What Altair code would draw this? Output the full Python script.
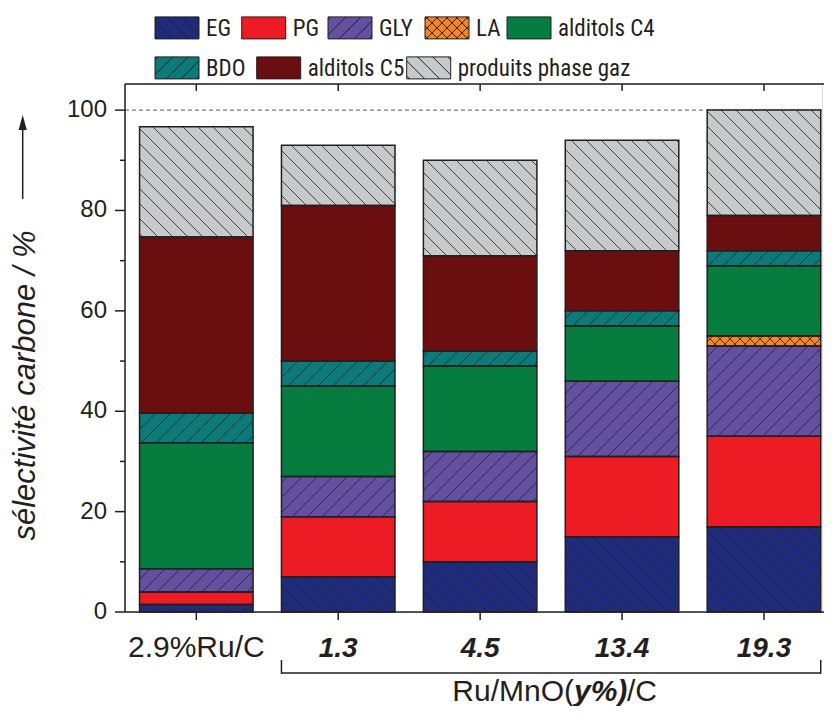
import math
import altair as alt
import pandas as pd

# ---------------- data ----------------
categories = ["2.9%Ru/C", "1.3", "4.5", "13.4", "19.3"]
components = ["EG", "PG", "GLY", "LA", "alditols C4", "BDO", "alditols C5", "produits phase gaz"]
EG = [1.5, 7, 10, 15, 17]
PG = [2.5, 12, 12, 16, 18]
GLY = [4.6, 8, 10, 15, 18]
LA = [0, 0, 0, 0, 2]
C4 = [25.1, 18, 17, 11, 14]
BDO = [5.9, 5, 3, 3, 3]
C5 = [35.1, 31, 19, 12, 7]
GAS = [22.0, 12, 19, 22, 21]
series = [EG, PG, GLY, LA, C4, BDO, C5, GAS]
y_ticks = [0, 20, 40, 60, 80, 100]
y_minor = [10, 30, 50, 70, 90]
ref_level = [100]
y_title = "sélectivité carbone / %"
x_title_parts = ["Ru/MnO(", "y%)", "/C"]

# ---------------- style ----------------
colors = ["#1f2b7b", "#ed1c24", "#6350a0", "#f6871f", "#067c3f", "#0a7b79", "#6b0e10", "#c8c9cb"]
patterns = ["\\", "", "/", "x", "", "/", "", "\\"]
INK = "#231f20"
FONT = "Liberation Sans"
NARROW = "Liberation Sans Narrow, Arial Narrow, Roboto Condensed, Liberation Sans"
# legend layout (swatch left edge / row centre, in plot pixels)
leg_left = [30, 116.7, 203, 300, 382, 30, 131.7, 281.7]
leg_row = [-56.1] * 5 + [-16.1] * 3

W, H = 697, 528
XMIN, XMAX = -0.5025, 4.409
YMAX = 105.2
HALF = 0.4
XS = W / (XMAX - XMIN)
YS = H / YMAX


def hatch_segs(x0, x1, y0, y1, kind, s, eps):
    segs = []
    dirs = {"\\": ["d"], "/": ["u"], "x": ["d", "u"]}.get(kind, [])
    for d in dirs:
        if d == "d":  # y = x + c (screen coords, y down)
            cmin, cmax = y0 - x1, y1 - x0
            for n in range(math.ceil(cmin / s), math.floor(cmax / s) + 1):
                c = n * s
                xa, xb = max(x0, y0 - c), min(x1, y1 - c)
                if xb - xa > eps:
                    segs.append((xa, xa + c, xb, xb + c))
        else:  # y = -x + c
            cmin, cmax = y0 + x0, y1 + x1
            for n in range(math.ceil(cmin / s), math.floor(cmax / s) + 1):
                c = n * s
                xa, xb = max(x0, c - y1), min(x1, c - y0)
                if xb - xa > eps:
                    segs.append((xa, c - xa, xb, c - xb))
    return segs


rows, hatch = [], []
for i, cat in enumerate(categories):
    base = 0.0
    for comp, vals, pat in zip(components, series, patterns):
        v = vals[i]
        if v <= 0:
            continue
        y0, y1 = base, base + v
        rows.append(dict(idx=i, cat=cat, comp=comp, xl=i - HALF, xr=i + HALF, y0=y0, y1=y1))
        px0, px1 = (i - HALF - XMIN) * XS, (i + HALF - XMIN) * XS
        pyt, pyb = H - y1 * YS, H - y0 * YS
        sp = 10 if pat == "x" else 15
        for (ax, ay, bx, by) in hatch_segs(px0, px1, pyt, pyb, pat, sp, 0.8):
            hatch.append(dict(hx=XMIN + ax / XS, hx2=XMIN + bx / XS,
                              hy=(H - ay) / YS, hy2=(H - by) / YS))
        base = y1

df = pd.DataFrame(rows)
dh = pd.DataFrame(hatch)

# legend symbol paths (unit box [-1,1] wide, [-0.5,0.5] tall) with hatching
paths = []
for pat in patterns:
    p = "M-1,-0.5H1V0.5H-1Z"
    sp = 10 / 22 if pat == "x" else 15 / 22
    for (ax, ay, bx, by) in hatch_segs(-1, 1, -0.5, 0.5, pat, sp, 0.02):
        p += f"M{ax:.3f},{ay:.3f}L{bx:.3f},{by:.3f}"
    paths.append(p)

leg_df = pd.DataFrame({"comp": components, "color": colors, "path": paths,
                       "sx": [v + 22 for v in leg_left], "tx": [v + 51 for v in leg_left],
                       "sy": leg_row, "ty": [v + 8.4 for v in leg_row]})

xscale = alt.Scale(domain=[XMIN, XMAX], nice=False, zero=False)
yscale = alt.Scale(domain=[0, YMAX], nice=False, zero=True)
fscale = alt.Scale(domain=components, range=colors)

one = alt.Data(values=[{"a": 1}])
cat_df = pd.DataFrame({"i": list(range(len(categories))), "cat": categories,
                       "top": [YMAX] * len(categories)})
ytk_df = pd.DataFrame({"v": y_ticks})
frame_df = pd.DataFrame({"lo": [0.0], "hi": [YMAX], "l": [XMIN]})

dash = alt.Chart(pd.DataFrame({"v": ref_level})).mark_rule(
    stroke="#555555", strokeWidth=1, strokeDash=[4, 3]).encode(
    y=alt.Y("v:Q", scale=yscale, axis=None), x=alt.value(0), x2=alt.value(W + 2))

bars = alt.Chart(df).mark_rect(strokeWidth=0).encode(
    x=alt.X("xl:Q", scale=xscale, axis=None), x2="xr:Q",
    y=alt.Y("y0:Q", scale=yscale, axis=None), y2="y1:Q",
    fill=alt.Fill("comp:N", scale=fscale, legend=None))

hatch_l = alt.Chart(dh).mark_rule(stroke=INK, strokeWidth=0.8).encode(
    x=alt.X("hx:Q", scale=xscale, axis=None), x2="hx2:Q",
    y=alt.Y("hy:Q", scale=yscale, axis=None), y2="hy2:Q")

outline = alt.Chart(df).mark_rect(fillOpacity=0, stroke=INK, strokeWidth=1.5).encode(
    x=alt.X("xl:Q", scale=xscale, axis=None), x2="xr:Q",
    y=alt.Y("y0:Q", scale=yscale, axis=None), y2="y1:Q")

# frame (through the scales)
top_line = alt.Chart(frame_df).mark_rule(stroke=INK, strokeWidth=1.5).encode(
    y=alt.Y("hi:Q", scale=yscale, axis=None), x=alt.value(0), x2=alt.value(W + 2))
bot_line = alt.Chart(frame_df).mark_rule(stroke=INK, strokeWidth=1.5).encode(
    y=alt.Y("lo:Q", scale=yscale, axis=None), x=alt.value(0), x2=alt.value(W + 2))
left_line = alt.Chart(frame_df).mark_rule(stroke=INK, strokeWidth=1.5).encode(
    x=alt.X("l:Q", scale=xscale, axis=None),
    y=alt.Y("lo:Q", scale=yscale, axis=None), y2="hi:Q")

# x ticks (bottom, outward) and top ticks (inward)
x_ticks = alt.Chart(cat_df).mark_rule(stroke=INK, strokeWidth=1.5).encode(
    x=alt.X("i:Q", scale=xscale, axis=None), y=alt.value(H), y2=alt.value(H + 8))
top_ticks = alt.Chart(cat_df).mark_rule(stroke=INK, strokeWidth=1.5).encode(
    x=alt.X("i:Q", scale=xscale, axis=None),
    y=alt.Y("top:Q", scale=yscale, axis=None), y2=alt.value(7))

# y ticks and labels
y_major = alt.Chart(ytk_df).mark_rule(stroke=INK, strokeWidth=1.5).encode(
    y=alt.Y("v:Q", scale=yscale, axis=None), x=alt.value(-10), x2=alt.value(0))
minor = alt.Chart(pd.DataFrame({"v": y_minor})).mark_rule(stroke=INK, strokeWidth=1.5).encode(
    y=alt.Y("v:Q", scale=yscale, axis=None), x=alt.value(-5), x2=alt.value(0))
y_labels = alt.Chart(ytk_df).mark_text(font=FONT, fontSize=24, color=INK, align="right",
                                       baseline="middle").encode(
    y=alt.Y("v:Q", scale=yscale, axis=None), x=alt.value(-18), text="v:Q")

lab_first = alt.Chart(cat_df).transform_filter("datum.i == 0").mark_text(
    font=FONT, fontSize=30, color=INK, align="center", baseline="alphabetic").encode(
    x=alt.X("i:Q", scale=xscale, axis=None), y=alt.value(H + 44.5), text="cat:N")
lab_rest = alt.Chart(cat_df).transform_filter("datum.i > 0").mark_text(
    font=FONT, fontSize=28, fontWeight="bold", fontStyle="italic", color=INK,
    align="center", baseline="alphabetic").encode(
    x=alt.X("i:Q", scale=xscale, axis=None), y=alt.value(H + 44.5), text="cat:N")

br_df = pd.DataFrame({"a": [1 - HALF], "b": [len(categories) - 1 + HALF]})
br_h = alt.Chart(br_df).mark_rule(stroke=INK, strokeWidth=1.5).encode(
    x=alt.X("a:Q", scale=xscale, axis=None), x2="b:Q", y=alt.value(589))
br_v = alt.Chart(br_df).transform_fold(["a", "b"], as_=["k", "pos"]).mark_rule(
    stroke=INK, strokeWidth=1.5).encode(
    x=alt.X("pos:Q", scale=xscale, axis=None), y=alt.value(576), y2=alt.value(589.7))

TY = 617
t1 = alt.Chart(one).mark_text(text=x_title_parts[0], font=FONT, fontSize=30, color=INK,
                              align="right", baseline="alphabetic").encode(
    x=alt.value(449), y=alt.value(TY))
t2 = alt.Chart(one).mark_text(text=x_title_parts[1], font=FONT, fontSize=30, color=INK,
                              fontWeight="bold", fontStyle="italic",
                              align="left", baseline="alphabetic").encode(
    x=alt.value(449), y=alt.value(TY))
t3 = alt.Chart(one).mark_text(text=x_title_parts[2], font=FONT, fontSize=30, color=INK,
                              align="left", baseline="alphabetic").encode(
    x=alt.value(502), y=alt.value(TY))

ytitle = alt.Chart(one).mark_text(text=y_title, font=FONT, fontSize=31, fontStyle="italic",
                                  color=INK, angle=270, align="center", baseline="middle").encode(
    x=alt.value(-99), y=alt.value(301.5))
arrow_line = alt.Chart(one).mark_rule(stroke=INK, strokeWidth=1.5).encode(
    x=alt.value(-102.3), y=alt.value(115), y2=alt.value(44))
arrow_head = alt.Chart(one).mark_point(shape="M0,-1L0.55,1L-0.55,1Z", filled=True, fill=INK,
                                       size=225, opacity=1, strokeWidth=0).encode(
    x=alt.value(-102.3), y=alt.value(38.5))

leg_sym = alt.Chart(leg_df).mark_point(filled=True, opacity=1, stroke=INK, strokeWidth=1,
                                       size=1936).encode(
    x=alt.X("sx:Q", scale=None, axis=None), y=alt.Y("sy:Q", scale=None, axis=None),
    fill=alt.Fill("color:N", scale=None, legend=None),
    shape=alt.Shape("path:N", scale=None, legend=None))
leg_txt = alt.Chart(leg_df).mark_text(font=NARROW, fontSize=23, color=INK, align="left",
                                      baseline="alphabetic").encode(
    x=alt.X("tx:Q", scale=None, axis=None), y=alt.Y("ty:Q", scale=None, axis=None),
    text="comp:N")

chart = alt.layer(
    dash, bars, hatch_l, outline, top_line, bot_line, left_line, x_ticks, top_ticks,
    y_major, minor, y_labels, lab_first, lab_rest,
    br_h, br_v, t1, t2, t3, ytitle, arrow_line, arrow_head, leg_sym, leg_txt
).properties(
    width=W, height=H,
    autosize=alt.AutoSizeParams(type="none"),
    padding={"left": 117, "top": 76, "right": 2, "bottom": 94},
).configure_view(stroke=None).configure(background="white")

chart.save("out.html", embed_options={"renderer": "svg", "actions": False})
